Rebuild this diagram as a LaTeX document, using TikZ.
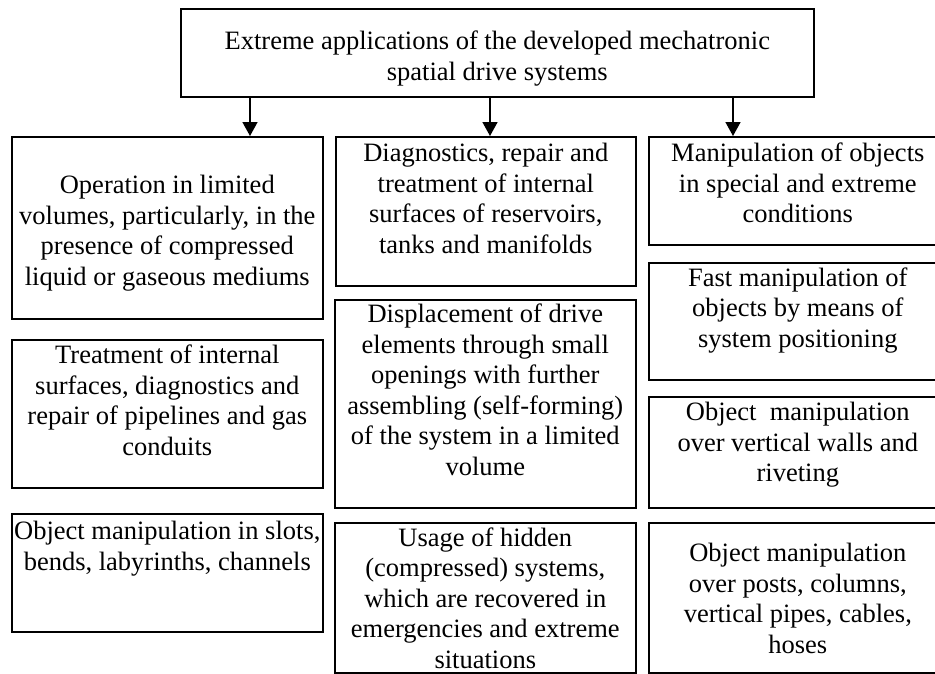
\documentclass[tikz,border=0pt]{standalone}
\usepackage{fontspec}
\setmainfont{Liberation Serif}
\usetikzlibrary{arrows.meta}
\newcommand\cellfont{\fontsize{26.5pt}{30.5pt}\selectfont}
\begin{document}
\begin{tikzpicture}[x=1pt,y=-1pt,
  frame/.style={draw, line width=1.6pt, inner sep=0pt, anchor=north west},
  celltext/.style={inner sep=0pt, align=center, font=\cellfont, anchor=north},
  link/.style={line width=1.6pt, -{Triangle[width=15pt,length=14pt]}}]
\useasboundingbox (0,0) rectangle (935,673);
\clip (0,0) rectangle (935,673);

% frames
\node[frame, minimum width=633pt, minimum height=88pt]  (top) at (180,8) {};
\node[frame, minimum width=311pt, minimum height=182pt] (L1) at (11,136) {};
\node[frame, minimum width=311pt, minimum height=148pt] (L2) at (11,339) {};
\node[frame, minimum width=311pt, minimum height=118pt] (L3) at (11,513) {};
\node[frame, minimum width=300pt, minimum height=149pt] (M1) at (335,136) {};
\node[frame, minimum width=301pt, minimum height=208pt] (M2) at (334,299) {};
\node[frame, minimum width=301pt, minimum height=150pt] (M3) at (334,522) {};
\node[frame, minimum width=298pt, minimum height=108pt] (R1) at (648,136) {};
\node[frame, minimum width=298pt, minimum height=117pt] (R2) at (648,262) {};
\node[frame, minimum width=298pt, minimum height=111pt] (R3) at (648,396) {};
\node[frame, minimum width=298pt, minimum height=150pt] (R4) at (648,522) {};

% texts
\node[celltext] (tTop) at ([yshift=-20pt]top.north) {\strut Extreme applications of the developed mechatronic\\spatial drive systems};
\node[celltext] (tL1) at ([yshift=-36pt]L1.north) {\strut Operation in limited\\volumes, particularly, in the\\presence of compressed\\liquid or gaseous mediums};
\node[celltext] (tL2) at ([yshift=-3pt]L2.north) {\strut Treatment of internal\\surfaces, diagnostics and\\repair of pipelines and gas\\conduits};
\node[celltext] (tL3) at ([yshift=-5pt]L3.north) {\strut Object manipulation in slots,\\bends, labyrinths, channels};
\node[celltext] (tM1) at ([yshift=-4.3pt]M1.north) {\strut Diagnostics, repair and\\treatment of internal\\surfaces of reservoirs,\\tanks and manifolds};
\node[celltext] (tM2) at ([yshift=-2.3pt]M2.north) {\strut Displacement of drive\\elements through small\\openings with further\\assembling (self-forming)\\of the system in a limited\\volume};
\node[celltext] (tM3) at ([yshift=-2.7pt]M3.north) {\strut Usage of hidden\\(compressed) systems,\\which are recovered in\\emergencies and extreme\\situations};
\node[celltext] (tR1) at ([yshift=-4.3pt]R1.north) {\strut Manipulation of objects\\in special and extreme\\conditions};
\node[celltext] (tR2) at ([yshift=-2.7pt]R2.north) {\strut Fast manipulation of\\objects by means of\\system positioning};
\node[celltext] (tR3) at ([yshift=-3.3pt]R3.north) {\strut Object~ manipulation\\over vertical walls and\\riveting};
\node[celltext] (tR4) at ([yshift=-18.3pt]R4.north) {\strut Object manipulation\\over posts, columns,\\vertical pipes, cables,\\hoses};

% arrows from the title box to the three columns
\coordinate (c1) at (250,0);
\coordinate (c2) at (490,0);
\coordinate (c3) at (733,0);
\draw[link] (top.south -| c1) -- (L1.north -| c1);
\draw[link] (top.south -| c2) -- (M1.north -| c2);
\draw[link] (top.south -| c3) -- (R1.north -| c3);
\end{tikzpicture}
\end{document}
